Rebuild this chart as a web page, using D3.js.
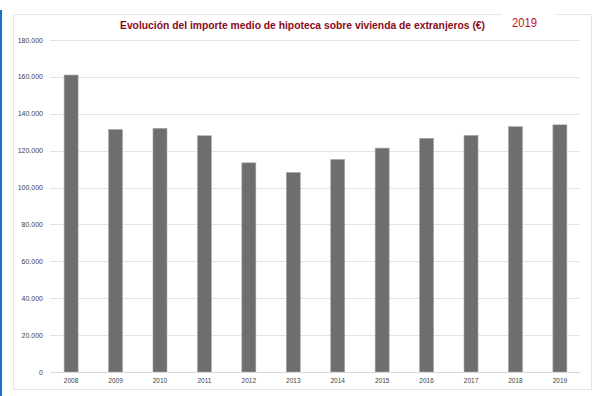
<!DOCTYPE html>
<html lang="es">
<head>
  <meta charset="UTF-8">
  <title>Importe medio de hipoteca - extranjeros</title>
  <script src="https://d3js.org/d3.v7.min.js"></script>
  <style>
    body { margin: 0; background: #fff; }
  </style>
</head>
<body>
  <svg id="chart" width="600" height="396"></svg>

  <script>
    // datos
    const years = ["2008", "2009", "2010", "2011", "2012", "2013", "2014", "2015", "2016", "2017", "2018", "2019"];
    const importes = [161000, 131500, 132100, 128100, 113400, 108200, 115200, 121400, 126700, 128300, 133000, 134000];
    const yTicks = [0, 20000, 40000, 60000, 80000, 100000, 120000, 140000, 160000, 180000];

    const svg = d3.select("#chart");

    // borde azul a la izquierda
    svg.append("rect")
      .attr("x", 0).attr("y", 10)
      .attr("width", 2).attr("height", 386)
      .attr("fill", "#1a73c8");

    // marco del grafico
    svg.append("rect")
      .attr("x", 13.5).attr("y", 14.5)
      .attr("width", 578).attr("height", 375)
      .attr("fill", "none")
      .attr("stroke", "#e6e6e6");

    // hueco blanco del marco alrededor de "2019"
    svg.append("rect")
      .attr("x", 502).attr("y", 12)
      .attr("width", 53).attr("height", 6)
      .attr("fill", "#fff");

    const x = d3.scaleBand()
      .domain(years)
      .range([49, 582])
      .paddingInner(0.685)
      .paddingOuter(0.34);

    const y = d3.scaleLinear()
      .domain([0, 180000])
      .range([372, 40]);

    const fmt = d => d3.format(",")(d).replace(/,/g, ".");

    // lineas de cuadricula
    svg.append("g")
      .selectAll("line")
      .data(yTicks.filter(d => d > 0))
      .join("line")
      .attr("x1", 50).attr("x2", 580)
      .attr("y1", d => Math.round(y(d)) + 0.5)
      .attr("y2", d => Math.round(y(d)) + 0.5)
      .attr("stroke", "#e3e3e3");

    // etiquetas eje y
    svg.append("g")
      .selectAll("text")
      .data(yTicks)
      .join("text")
      .attr("x", 43)
      .attr("y", d => y(d) + 2.5)
      .attr("text-anchor", "end")
      .attr("font-family", "Liberation Sans, Arial, sans-serif")
      .attr("font-size", "7px")
      .attr("fill", "#404040")
      .text(fmt);

    // barras
    svg.append("g")
      .selectAll("rect")
      .data(importes)
      .join("rect")
      .attr("x", (d, i) => x(years[i]))
      .attr("y", d => y(d))
      .attr("width", x.bandwidth())
      .attr("height", d => y(0) - y(d))
      .attr("fill", "#6e6e6e")
      .attr("stroke", "#a9a9a9")
      .attr("stroke-width", 0.6);

    // linea base
    svg.append("line")
      .attr("x1", 50).attr("x2", 580)
      .attr("y1", 372.5).attr("y2", 372.5)
      .attr("stroke", "#d9d9d9");

    // etiquetas eje x
    svg.append("g")
      .selectAll("text")
      .data(years)
      .join("text")
      .attr("x", d => x(d) + x.bandwidth() / 2)
      .attr("y", 383)
      .attr("text-anchor", "middle")
      .attr("font-family", "Liberation Sans, Arial, sans-serif")
      .attr("font-size", "6.5px")
      .attr("fill", "#404040")
      .text(d => d);

    // titulo
    svg.append("text")
      .attr("x", 120)
      .attr("y", 28.5)
      .attr("font-family", "Liberation Sans, Arial, sans-serif")
      .attr("font-weight", "bold")
      .attr("font-size", "11px")
      .attr("fill", "#8b0a1a")
      .attr("textLength", 365)
      .attr("lengthAdjust", "spacingAndGlyphs")
      .text("Evolución del importe medio de hipoteca sobre vivienda de extranjeros (€)");

    svg.append("text")
      .attr("x", 512)
      .attr("y", 27)
      .attr("font-family", "Liberation Sans, Arial, sans-serif")
      .attr("font-size", "12.5px")
      .attr("fill", "#c0102a")
      .attr("textLength", 25)
      .attr("lengthAdjust", "spacingAndGlyphs")
      .text("2019");
  </script>
</body>
</html>
